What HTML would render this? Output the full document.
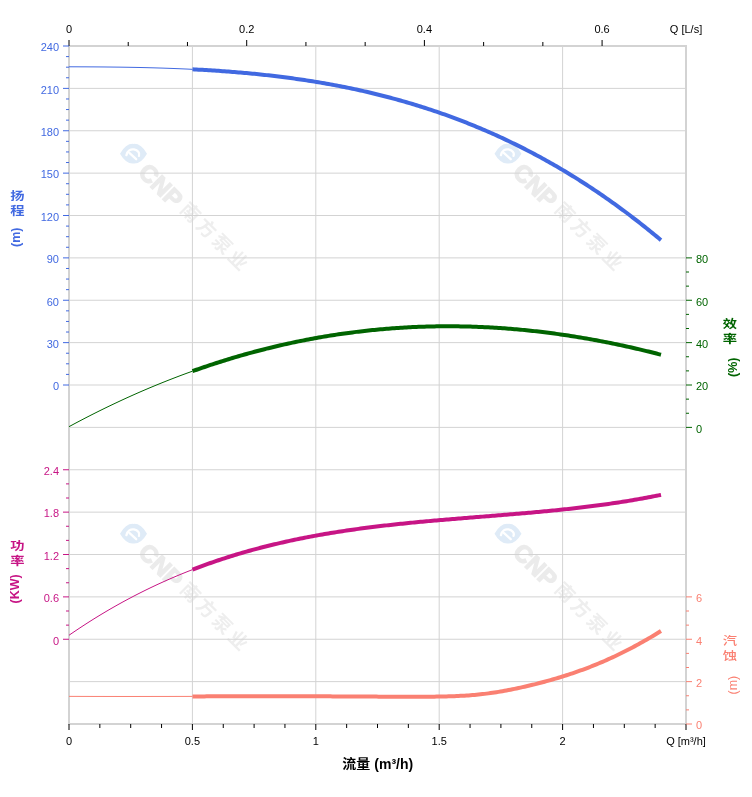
<!DOCTYPE html>
<html><head><meta charset="utf-8"><title>Pump curve</title>
<style>html,body{margin:0;padding:0;background:#fff;}svg{display:block;}</style></head>
<body><svg width="752" height="797" viewBox="0 0 752 797">
<rect width="752" height="797" fill="#fff"/>
<g transform="translate(0,0)">
<path d="M120,153.7 Q126,143.3 133.5,143.9 Q141,143.3 147,153.7 Q141,164.1 133.5,163.5 Q126,164.1 120,153.7 Z" fill="#dfebf7"/>
<path d="M126.4,155.2 C127.2,150.6 130.8,148.8 134,149.4 C137.6,150.2 140.2,152.6 139,155.8 M129.6,153.2 L136.2,159.2" fill="none" stroke="#ffffff" stroke-width="2.3" stroke-linecap="round"/>
<text transform="translate(137,173.5) rotate(45)" font-family='"Liberation Sans", Arial, sans-serif' font-weight="bold" font-size="24" fill="#ebebeb" stroke="#ebebeb" stroke-width="1.3">CNP</text>
<text transform="translate(179,210.5) rotate(45)" font-family='"Liberation Sans", "Noto Sans CJK SC", "WenQuanYi Zen Hei", sans-serif' font-weight="bold" font-size="19" letter-spacing="3.5" fill="#eeeeee">南方泵业</text>
</g>
<g transform="translate(374.5,0)">
<path d="M120,153.7 Q126,143.3 133.5,143.9 Q141,143.3 147,153.7 Q141,164.1 133.5,163.5 Q126,164.1 120,153.7 Z" fill="#dfebf7"/>
<path d="M126.4,155.2 C127.2,150.6 130.8,148.8 134,149.4 C137.6,150.2 140.2,152.6 139,155.8 M129.6,153.2 L136.2,159.2" fill="none" stroke="#ffffff" stroke-width="2.3" stroke-linecap="round"/>
<text transform="translate(137,173.5) rotate(45)" font-family='"Liberation Sans", Arial, sans-serif' font-weight="bold" font-size="24" fill="#ebebeb" stroke="#ebebeb" stroke-width="1.3">CNP</text>
<text transform="translate(179,210.5) rotate(45)" font-family='"Liberation Sans", "Noto Sans CJK SC", "WenQuanYi Zen Hei", sans-serif' font-weight="bold" font-size="19" letter-spacing="3.5" fill="#eeeeee">南方泵业</text>
</g>
<g transform="translate(0,380)">
<path d="M120,153.7 Q126,143.3 133.5,143.9 Q141,143.3 147,153.7 Q141,164.1 133.5,163.5 Q126,164.1 120,153.7 Z" fill="#dfebf7"/>
<path d="M126.4,155.2 C127.2,150.6 130.8,148.8 134,149.4 C137.6,150.2 140.2,152.6 139,155.8 M129.6,153.2 L136.2,159.2" fill="none" stroke="#ffffff" stroke-width="2.3" stroke-linecap="round"/>
<text transform="translate(137,173.5) rotate(45)" font-family='"Liberation Sans", Arial, sans-serif' font-weight="bold" font-size="24" fill="#ebebeb" stroke="#ebebeb" stroke-width="1.3">CNP</text>
<text transform="translate(179,210.5) rotate(45)" font-family='"Liberation Sans", "Noto Sans CJK SC", "WenQuanYi Zen Hei", sans-serif' font-weight="bold" font-size="19" letter-spacing="3.5" fill="#eeeeee">南方泵业</text>
</g>
<g transform="translate(374.5,380)">
<path d="M120,153.7 Q126,143.3 133.5,143.9 Q141,143.3 147,153.7 Q141,164.1 133.5,163.5 Q126,164.1 120,153.7 Z" fill="#dfebf7"/>
<path d="M126.4,155.2 C127.2,150.6 130.8,148.8 134,149.4 C137.6,150.2 140.2,152.6 139,155.8 M129.6,153.2 L136.2,159.2" fill="none" stroke="#ffffff" stroke-width="2.3" stroke-linecap="round"/>
<text transform="translate(137,173.5) rotate(45)" font-family='"Liberation Sans", Arial, sans-serif' font-weight="bold" font-size="24" fill="#ebebeb" stroke="#ebebeb" stroke-width="1.3">CNP</text>
<text transform="translate(179,210.5) rotate(45)" font-family='"Liberation Sans", "Noto Sans CJK SC", "WenQuanYi Zen Hei", sans-serif' font-weight="bold" font-size="19" letter-spacing="3.5" fill="#eeeeee">南方泵业</text>
</g>
<line x1="70" y1="88.375" x2="685" y2="88.375" stroke="#d3d3d3" stroke-width="1"/>
<line x1="70" y1="130.750" x2="685" y2="130.750" stroke="#d3d3d3" stroke-width="1"/>
<line x1="70" y1="173.125" x2="685" y2="173.125" stroke="#d3d3d3" stroke-width="1"/>
<line x1="70" y1="215.500" x2="685" y2="215.500" stroke="#d3d3d3" stroke-width="1"/>
<line x1="70" y1="257.875" x2="685" y2="257.875" stroke="#d3d3d3" stroke-width="1"/>
<line x1="70" y1="300.250" x2="685" y2="300.250" stroke="#d3d3d3" stroke-width="1"/>
<line x1="70" y1="342.625" x2="685" y2="342.625" stroke="#d3d3d3" stroke-width="1"/>
<line x1="70" y1="385.000" x2="685" y2="385.000" stroke="#d3d3d3" stroke-width="1"/>
<line x1="70" y1="427.375" x2="685" y2="427.375" stroke="#d3d3d3" stroke-width="1"/>
<line x1="70" y1="469.750" x2="685" y2="469.750" stroke="#d3d3d3" stroke-width="1"/>
<line x1="70" y1="512.125" x2="685" y2="512.125" stroke="#d3d3d3" stroke-width="1"/>
<line x1="70" y1="554.500" x2="685" y2="554.500" stroke="#d3d3d3" stroke-width="1"/>
<line x1="70" y1="596.875" x2="685" y2="596.875" stroke="#d3d3d3" stroke-width="1"/>
<line x1="70" y1="639.250" x2="685" y2="639.250" stroke="#d3d3d3" stroke-width="1"/>
<line x1="70" y1="681.625" x2="685" y2="681.625" stroke="#d3d3d3" stroke-width="1"/>
<line x1="192.400" y1="47" x2="192.400" y2="723" stroke="#d3d3d3" stroke-width="1"/>
<line x1="315.800" y1="47" x2="315.800" y2="723" stroke="#d3d3d3" stroke-width="1"/>
<line x1="439.200" y1="47" x2="439.200" y2="723" stroke="#d3d3d3" stroke-width="1"/>
<line x1="562.600" y1="47" x2="562.600" y2="723" stroke="#d3d3d3" stroke-width="1"/>
<rect x="69" y="46" width="617" height="678" fill="none" stroke="#d3d3d3" stroke-width="2"/>
<line x1="69.000" y1="40" x2="69.000" y2="46" stroke="#000000" stroke-width="1"/>
<line x1="128.232" y1="42" x2="128.232" y2="46" stroke="#000000" stroke-width="1"/>
<line x1="187.464" y1="42" x2="187.464" y2="46" stroke="#000000" stroke-width="1"/>
<line x1="246.696" y1="40" x2="246.696" y2="46" stroke="#000000" stroke-width="1"/>
<line x1="305.928" y1="42" x2="305.928" y2="46" stroke="#000000" stroke-width="1"/>
<line x1="365.160" y1="42" x2="365.160" y2="46" stroke="#000000" stroke-width="1"/>
<line x1="424.392" y1="40" x2="424.392" y2="46" stroke="#000000" stroke-width="1"/>
<line x1="483.624" y1="42" x2="483.624" y2="46" stroke="#000000" stroke-width="1"/>
<line x1="542.856" y1="42" x2="542.856" y2="46" stroke="#000000" stroke-width="1"/>
<line x1="602.088" y1="40" x2="602.088" y2="46" stroke="#000000" stroke-width="1"/>
<line x1="69.000" y1="724" x2="69.000" y2="730" stroke="#000000" stroke-width="1"/>
<line x1="99.850" y1="724" x2="99.850" y2="728" stroke="#000000" stroke-width="1"/>
<line x1="130.700" y1="724" x2="130.700" y2="728" stroke="#000000" stroke-width="1"/>
<line x1="161.550" y1="724" x2="161.550" y2="728" stroke="#000000" stroke-width="1"/>
<line x1="192.400" y1="724" x2="192.400" y2="730" stroke="#000000" stroke-width="1"/>
<line x1="223.250" y1="724" x2="223.250" y2="728" stroke="#000000" stroke-width="1"/>
<line x1="254.100" y1="724" x2="254.100" y2="728" stroke="#000000" stroke-width="1"/>
<line x1="284.950" y1="724" x2="284.950" y2="728" stroke="#000000" stroke-width="1"/>
<line x1="315.800" y1="724" x2="315.800" y2="730" stroke="#000000" stroke-width="1"/>
<line x1="346.650" y1="724" x2="346.650" y2="728" stroke="#000000" stroke-width="1"/>
<line x1="377.500" y1="724" x2="377.500" y2="728" stroke="#000000" stroke-width="1"/>
<line x1="408.350" y1="724" x2="408.350" y2="728" stroke="#000000" stroke-width="1"/>
<line x1="439.200" y1="724" x2="439.200" y2="730" stroke="#000000" stroke-width="1"/>
<line x1="470.050" y1="724" x2="470.050" y2="728" stroke="#000000" stroke-width="1"/>
<line x1="500.900" y1="724" x2="500.900" y2="728" stroke="#000000" stroke-width="1"/>
<line x1="531.750" y1="724" x2="531.750" y2="728" stroke="#000000" stroke-width="1"/>
<line x1="562.600" y1="724" x2="562.600" y2="730" stroke="#000000" stroke-width="1"/>
<line x1="593.450" y1="724" x2="593.450" y2="728" stroke="#000000" stroke-width="1"/>
<line x1="624.300" y1="724" x2="624.300" y2="728" stroke="#000000" stroke-width="1"/>
<line x1="655.150" y1="724" x2="655.150" y2="728" stroke="#000000" stroke-width="1"/>
<line x1="686.000" y1="724" x2="686.000" y2="730" stroke="#000000" stroke-width="1"/>
<line x1="63" y1="46.000" x2="69" y2="46.000" stroke="#4169E1" stroke-width="1"/>
<line x1="66" y1="56.594" x2="69" y2="56.594" stroke="#4169E1" stroke-width="1"/>
<line x1="66" y1="67.188" x2="69" y2="67.188" stroke="#4169E1" stroke-width="1"/>
<line x1="66" y1="77.781" x2="69" y2="77.781" stroke="#4169E1" stroke-width="1"/>
<line x1="63" y1="88.375" x2="69" y2="88.375" stroke="#4169E1" stroke-width="1"/>
<line x1="66" y1="98.969" x2="69" y2="98.969" stroke="#4169E1" stroke-width="1"/>
<line x1="66" y1="109.562" x2="69" y2="109.562" stroke="#4169E1" stroke-width="1"/>
<line x1="66" y1="120.156" x2="69" y2="120.156" stroke="#4169E1" stroke-width="1"/>
<line x1="63" y1="130.750" x2="69" y2="130.750" stroke="#4169E1" stroke-width="1"/>
<line x1="66" y1="141.344" x2="69" y2="141.344" stroke="#4169E1" stroke-width="1"/>
<line x1="66" y1="151.938" x2="69" y2="151.938" stroke="#4169E1" stroke-width="1"/>
<line x1="66" y1="162.531" x2="69" y2="162.531" stroke="#4169E1" stroke-width="1"/>
<line x1="63" y1="173.125" x2="69" y2="173.125" stroke="#4169E1" stroke-width="1"/>
<line x1="66" y1="183.719" x2="69" y2="183.719" stroke="#4169E1" stroke-width="1"/>
<line x1="66" y1="194.312" x2="69" y2="194.312" stroke="#4169E1" stroke-width="1"/>
<line x1="66" y1="204.906" x2="69" y2="204.906" stroke="#4169E1" stroke-width="1"/>
<line x1="63" y1="215.500" x2="69" y2="215.500" stroke="#4169E1" stroke-width="1"/>
<line x1="66" y1="226.094" x2="69" y2="226.094" stroke="#4169E1" stroke-width="1"/>
<line x1="66" y1="236.688" x2="69" y2="236.688" stroke="#4169E1" stroke-width="1"/>
<line x1="66" y1="247.281" x2="69" y2="247.281" stroke="#4169E1" stroke-width="1"/>
<line x1="63" y1="257.875" x2="69" y2="257.875" stroke="#4169E1" stroke-width="1"/>
<line x1="66" y1="268.469" x2="69" y2="268.469" stroke="#4169E1" stroke-width="1"/>
<line x1="66" y1="279.062" x2="69" y2="279.062" stroke="#4169E1" stroke-width="1"/>
<line x1="66" y1="289.656" x2="69" y2="289.656" stroke="#4169E1" stroke-width="1"/>
<line x1="63" y1="300.250" x2="69" y2="300.250" stroke="#4169E1" stroke-width="1"/>
<line x1="66" y1="310.844" x2="69" y2="310.844" stroke="#4169E1" stroke-width="1"/>
<line x1="66" y1="321.438" x2="69" y2="321.438" stroke="#4169E1" stroke-width="1"/>
<line x1="66" y1="332.031" x2="69" y2="332.031" stroke="#4169E1" stroke-width="1"/>
<line x1="63" y1="342.625" x2="69" y2="342.625" stroke="#4169E1" stroke-width="1"/>
<line x1="66" y1="353.219" x2="69" y2="353.219" stroke="#4169E1" stroke-width="1"/>
<line x1="66" y1="363.812" x2="69" y2="363.812" stroke="#4169E1" stroke-width="1"/>
<line x1="66" y1="374.406" x2="69" y2="374.406" stroke="#4169E1" stroke-width="1"/>
<line x1="63" y1="385.000" x2="69" y2="385.000" stroke="#4169E1" stroke-width="1"/>
<line x1="63" y1="469.750" x2="69" y2="469.750" stroke="#C71585" stroke-width="1"/>
<line x1="66" y1="483.875" x2="69" y2="483.875" stroke="#C71585" stroke-width="1"/>
<line x1="66" y1="498.000" x2="69" y2="498.000" stroke="#C71585" stroke-width="1"/>
<line x1="63" y1="512.125" x2="69" y2="512.125" stroke="#C71585" stroke-width="1"/>
<line x1="66" y1="526.250" x2="69" y2="526.250" stroke="#C71585" stroke-width="1"/>
<line x1="66" y1="540.375" x2="69" y2="540.375" stroke="#C71585" stroke-width="1"/>
<line x1="63" y1="554.500" x2="69" y2="554.500" stroke="#C71585" stroke-width="1"/>
<line x1="66" y1="568.625" x2="69" y2="568.625" stroke="#C71585" stroke-width="1"/>
<line x1="66" y1="582.750" x2="69" y2="582.750" stroke="#C71585" stroke-width="1"/>
<line x1="63" y1="596.875" x2="69" y2="596.875" stroke="#C71585" stroke-width="1"/>
<line x1="66" y1="611.000" x2="69" y2="611.000" stroke="#C71585" stroke-width="1"/>
<line x1="66" y1="625.125" x2="69" y2="625.125" stroke="#C71585" stroke-width="1"/>
<line x1="63" y1="639.250" x2="69" y2="639.250" stroke="#C71585" stroke-width="1"/>
<line x1="686" y1="257.875" x2="692" y2="257.875" stroke="#006400" stroke-width="1"/>
<line x1="686" y1="272.000" x2="689" y2="272.000" stroke="#006400" stroke-width="1"/>
<line x1="686" y1="286.125" x2="689" y2="286.125" stroke="#006400" stroke-width="1"/>
<line x1="686" y1="300.250" x2="692" y2="300.250" stroke="#006400" stroke-width="1"/>
<line x1="686" y1="314.375" x2="689" y2="314.375" stroke="#006400" stroke-width="1"/>
<line x1="686" y1="328.500" x2="689" y2="328.500" stroke="#006400" stroke-width="1"/>
<line x1="686" y1="342.625" x2="692" y2="342.625" stroke="#006400" stroke-width="1"/>
<line x1="686" y1="356.750" x2="689" y2="356.750" stroke="#006400" stroke-width="1"/>
<line x1="686" y1="370.875" x2="689" y2="370.875" stroke="#006400" stroke-width="1"/>
<line x1="686" y1="385.000" x2="692" y2="385.000" stroke="#006400" stroke-width="1"/>
<line x1="686" y1="399.125" x2="689" y2="399.125" stroke="#006400" stroke-width="1"/>
<line x1="686" y1="413.250" x2="689" y2="413.250" stroke="#006400" stroke-width="1"/>
<line x1="686" y1="427.375" x2="692" y2="427.375" stroke="#006400" stroke-width="1"/>
<line x1="686" y1="596.875" x2="692" y2="596.875" stroke="#FA8072" stroke-width="1"/>
<line x1="686" y1="611.000" x2="689" y2="611.000" stroke="#FA8072" stroke-width="1"/>
<line x1="686" y1="625.125" x2="689" y2="625.125" stroke="#FA8072" stroke-width="1"/>
<line x1="686" y1="639.250" x2="692" y2="639.250" stroke="#FA8072" stroke-width="1"/>
<line x1="686" y1="653.375" x2="689" y2="653.375" stroke="#FA8072" stroke-width="1"/>
<line x1="686" y1="667.500" x2="689" y2="667.500" stroke="#FA8072" stroke-width="1"/>
<line x1="686" y1="681.625" x2="692" y2="681.625" stroke="#FA8072" stroke-width="1"/>
<line x1="686" y1="695.750" x2="689" y2="695.750" stroke="#FA8072" stroke-width="1"/>
<line x1="686" y1="709.875" x2="689" y2="709.875" stroke="#FA8072" stroke-width="1"/>
<line x1="686" y1="724.000" x2="692" y2="724.000" stroke="#FA8072" stroke-width="1"/>
<path d="M69.00,66.79 L71.00,66.79 L73.00,66.80 L75.00,66.81 L77.00,66.81 L79.00,66.82 L81.00,66.83 L83.00,66.84 L85.00,66.84 L87.00,66.85 L89.00,66.86 L91.00,66.88 L93.00,66.89 L95.00,66.90 L97.00,66.92 L99.00,66.93 L101.00,66.95 L103.00,66.96 L105.00,66.98 L107.00,67.00 L109.00,67.02 L111.00,67.04 L113.00,67.07 L115.00,67.09 L117.00,67.11 L119.00,67.14 L121.00,67.17 L123.00,67.20 L125.00,67.23 L127.00,67.26 L129.00,67.29 L131.00,67.33 L133.00,67.36 L135.00,67.40 L137.00,67.44 L139.00,67.48 L141.00,67.53 L143.00,67.57 L145.00,67.62 L147.00,67.67 L149.00,67.72 L151.00,67.77 L153.00,67.82 L155.00,67.88 L157.00,67.94 L159.00,68.00 L161.00,68.06 L163.00,68.12 L165.00,68.19 L167.00,68.26 L169.00,68.33 L171.00,68.40 L173.00,68.47 L175.00,68.55 L177.00,68.63 L179.00,68.71 L181.00,68.80 L183.00,68.88 L185.00,68.97 L187.00,69.06 L189.00,69.16 L191.00,69.25 L192.50,69.33" fill="none" stroke="#4169E1" stroke-width="1"/>
<path d="M192.50,69.33 L194.50,69.43 L196.50,69.53 L198.50,69.64 L200.50,69.75 L202.50,69.86 L204.50,69.97 L206.50,70.09 L208.50,70.21 L210.50,70.34 L212.50,70.46 L214.50,70.59 L216.50,70.72 L218.50,70.86 L220.50,71.00 L222.50,71.14 L224.50,71.28 L226.50,71.43 L228.50,71.58 L230.50,71.74 L232.50,71.90 L234.50,72.06 L236.50,72.22 L238.50,72.39 L240.50,72.56 L242.50,72.74 L244.50,72.91 L246.50,73.10 L248.50,73.28 L250.50,73.47 L252.50,73.66 L254.50,73.86 L256.50,74.06 L258.50,74.26 L260.50,74.47 L262.50,74.68 L264.50,74.90 L266.50,75.12 L268.50,75.34 L270.50,75.57 L272.50,75.80 L274.50,76.03 L276.50,76.27 L278.50,76.52 L280.50,76.76 L282.50,77.01 L284.50,77.27 L286.50,77.53 L288.50,77.79 L290.50,78.06 L292.50,78.34 L294.50,78.61 L296.50,78.90 L298.50,79.18 L300.50,79.47 L302.50,79.77 L304.50,80.07 L306.50,80.37 L308.50,80.68 L310.50,80.99 L312.50,81.31 L314.50,81.64 L316.50,81.96 L318.50,82.30 L320.50,82.63 L322.50,82.98 L324.50,83.32 L326.50,83.68 L328.50,84.03 L330.50,84.40 L332.50,84.76 L334.50,85.14 L336.50,85.51 L338.50,85.90 L340.50,86.28 L342.50,86.68 L344.50,87.08 L346.50,87.48 L348.50,87.89 L350.50,88.30 L352.50,88.72 L354.50,89.15 L356.50,89.58 L358.50,90.02 L360.50,90.46 L362.50,90.90 L364.50,91.36 L366.50,91.82 L368.50,92.28 L370.50,92.75 L372.50,93.23 L374.50,93.71 L376.50,94.20 L378.50,94.69 L380.50,95.19 L382.50,95.69 L384.50,96.20 L386.50,96.72 L388.50,97.24 L390.50,97.77 L392.50,98.31 L394.50,98.85 L396.50,99.40 L398.50,99.95 L400.50,100.51 L402.50,101.08 L404.50,101.65 L406.50,102.23 L408.50,102.82 L410.50,103.41 L412.50,104.01 L414.50,104.61 L416.50,105.22 L418.50,105.84 L420.50,106.47 L422.50,107.10 L424.50,107.73 L426.50,108.38 L428.50,109.03 L430.50,109.69 L432.50,110.35 L434.50,111.03 L436.50,111.70 L438.50,112.39 L440.50,113.08 L442.50,113.78 L444.50,114.49 L446.50,115.20 L448.50,115.92 L450.50,116.65 L452.50,117.39 L454.50,118.13 L456.50,118.88 L458.50,119.63 L460.50,120.40 L462.50,121.17 L464.50,121.95 L466.50,122.73 L468.50,123.53 L470.50,124.33 L472.50,125.14 L474.50,125.95 L476.50,126.78 L478.50,127.61 L480.50,128.45 L482.50,129.29 L484.50,130.15 L486.50,131.01 L488.50,131.88 L490.50,132.76 L492.50,133.64 L494.50,134.54 L496.50,135.44 L498.50,136.35 L500.50,137.27 L502.50,138.19 L504.50,139.13 L506.50,140.07 L508.50,141.02 L510.50,141.98 L512.50,142.94 L514.50,143.92 L516.50,144.90 L518.50,145.89 L520.50,146.89 L522.50,147.90 L524.50,148.91 L526.50,149.94 L528.50,150.97 L530.50,152.01 L532.50,153.07 L534.50,154.12 L536.50,155.19 L538.50,156.27 L540.50,157.35 L542.50,158.45 L544.50,159.55 L546.50,160.66 L548.50,161.78 L550.50,162.91 L552.50,164.05 L554.50,165.20 L556.50,166.35 L558.50,167.52 L560.50,168.69 L562.50,169.87 L564.50,171.07 L566.50,172.27 L568.50,173.48 L570.50,174.70 L572.50,175.93 L574.50,177.17 L576.50,178.42 L578.50,179.67 L580.50,180.94 L582.50,182.22 L584.50,183.50 L586.50,184.80 L588.50,186.10 L590.50,187.42 L592.50,188.74 L594.50,190.07 L596.50,191.42 L598.50,192.77 L600.50,194.13 L602.50,195.51 L604.50,196.89 L606.50,198.28 L608.50,199.68 L610.50,201.09 L612.50,202.52 L614.50,203.95 L616.50,205.39 L618.50,206.84 L620.50,208.31 L622.50,209.78 L624.50,211.26 L626.50,212.75 L628.50,214.26 L630.50,215.77 L632.50,217.30 L634.50,218.83 L636.50,220.37 L638.50,221.93 L640.50,223.50 L642.50,225.07 L644.50,226.66 L646.50,228.26 L648.50,229.86 L650.50,231.48 L652.50,233.11 L654.50,234.75 L656.50,236.40 L658.50,238.06 L660.50,239.74 L661.00,240.15" fill="none" stroke="#4169E1" stroke-width="4" stroke-linejoin="round"/>
<path d="M69.00,426.68 L71.00,425.60 L73.00,424.52 L75.00,423.45 L77.00,422.39 L79.00,421.34 L81.00,420.29 L83.00,419.24 L85.00,418.20 L87.00,417.17 L89.00,416.15 L91.00,415.12 L93.00,414.11 L95.00,413.10 L97.00,412.10 L99.00,411.10 L101.00,410.11 L103.00,409.13 L105.00,408.15 L107.00,407.18 L109.00,406.21 L111.00,405.25 L113.00,404.30 L115.00,403.35 L117.00,402.41 L119.00,401.47 L121.00,400.54 L123.00,399.62 L125.00,398.70 L127.00,397.78 L129.00,396.88 L131.00,395.98 L133.00,395.08 L135.00,394.19 L137.00,393.31 L139.00,392.43 L141.00,391.56 L143.00,390.70 L145.00,389.84 L147.00,388.99 L149.00,388.14 L151.00,387.30 L153.00,386.46 L155.00,385.63 L157.00,384.81 L159.00,383.99 L161.00,383.18 L163.00,382.37 L165.00,381.58 L167.00,380.78 L169.00,379.99 L171.00,379.21 L173.00,378.44 L175.00,377.66 L177.00,376.90 L179.00,376.14 L181.00,375.39 L183.00,374.64 L185.00,373.90 L187.00,373.17 L189.00,372.44 L191.00,371.72 L192.50,371.18" fill="none" stroke="#006400" stroke-width="1"/>
<path d="M192.50,371.18 L194.50,370.46 L196.50,369.76 L198.50,369.06 L200.50,368.36 L202.50,367.67 L204.50,366.99 L206.50,366.31 L208.50,365.64 L210.50,364.97 L212.50,364.31 L214.50,363.66 L216.50,363.01 L218.50,362.37 L220.50,361.73 L222.50,361.10 L224.50,360.47 L226.50,359.85 L228.50,359.24 L230.50,358.63 L232.50,358.03 L234.50,357.43 L236.50,356.84 L238.50,356.26 L240.50,355.68 L242.50,355.11 L244.50,354.54 L246.50,353.98 L248.50,353.42 L250.50,352.87 L252.50,352.33 L254.50,351.79 L256.50,351.26 L258.50,350.73 L260.50,350.21 L262.50,349.70 L264.50,349.19 L266.50,348.68 L268.50,348.19 L270.50,347.69 L272.50,347.21 L274.50,346.73 L276.50,346.25 L278.50,345.78 L280.50,345.32 L282.50,344.86 L284.50,344.41 L286.50,343.96 L288.50,343.52 L290.50,343.09 L292.50,342.66 L294.50,342.23 L296.50,341.81 L298.50,341.40 L300.50,340.99 L302.50,340.59 L304.50,340.20 L306.50,339.81 L308.50,339.42 L310.50,339.05 L312.50,338.67 L314.50,338.31 L316.50,337.94 L318.50,337.59 L320.50,337.24 L322.50,336.89 L324.50,336.55 L326.50,336.22 L328.50,335.89 L330.50,335.57 L332.50,335.25 L334.50,334.94 L336.50,334.64 L338.50,334.34 L340.50,334.04 L342.50,333.76 L344.50,333.47 L346.50,333.19 L348.50,332.92 L350.50,332.66 L352.50,332.40 L354.50,332.14 L356.50,331.89 L358.50,331.65 L360.50,331.41 L362.50,331.17 L364.50,330.95 L366.50,330.72 L368.50,330.51 L370.50,330.30 L372.50,330.09 L374.50,329.89 L376.50,329.69 L378.50,329.51 L380.50,329.32 L382.50,329.14 L384.50,328.97 L386.50,328.80 L388.50,328.64 L390.50,328.48 L392.50,328.33 L394.50,328.19 L396.50,328.05 L398.50,327.91 L400.50,327.78 L402.50,327.66 L404.50,327.54 L406.50,327.43 L408.50,327.32 L410.50,327.22 L412.50,327.12 L414.50,327.03 L416.50,326.94 L418.50,326.86 L420.50,326.79 L422.50,326.71 L424.50,326.65 L426.50,326.59 L428.50,326.54 L430.50,326.49 L432.50,326.44 L434.50,326.41 L436.50,326.37 L438.50,326.34 L440.50,326.32 L442.50,326.31 L444.50,326.29 L446.50,326.29 L448.50,326.29 L450.50,326.29 L452.50,326.30 L454.50,326.31 L456.50,326.33 L458.50,326.36 L460.50,326.39 L462.50,326.42 L464.50,326.46 L466.50,326.51 L468.50,326.56 L470.50,326.62 L472.50,326.68 L474.50,326.75 L476.50,326.82 L478.50,326.90 L480.50,326.98 L482.50,327.06 L484.50,327.16 L486.50,327.25 L488.50,327.36 L490.50,327.47 L492.50,327.58 L494.50,327.70 L496.50,327.82 L498.50,327.95 L500.50,328.08 L502.50,328.22 L504.50,328.36 L506.50,328.51 L508.50,328.67 L510.50,328.82 L512.50,328.99 L514.50,329.16 L516.50,329.33 L518.50,329.51 L520.50,329.69 L522.50,329.88 L524.50,330.08 L526.50,330.28 L528.50,330.48 L530.50,330.69 L532.50,330.90 L534.50,331.12 L536.50,331.35 L538.50,331.57 L540.50,331.81 L542.50,332.05 L544.50,332.29 L546.50,332.54 L548.50,332.79 L550.50,333.05 L552.50,333.32 L554.50,333.58 L556.50,333.86 L558.50,334.13 L560.50,334.42 L562.50,334.70 L564.50,335.00 L566.50,335.29 L568.50,335.60 L570.50,335.90 L572.50,336.22 L574.50,336.53 L576.50,336.85 L578.50,337.18 L580.50,337.51 L582.50,337.85 L584.50,338.19 L586.50,338.53 L588.50,338.88 L590.50,339.24 L592.50,339.60 L594.50,339.96 L596.50,340.33 L598.50,340.71 L600.50,341.09 L602.50,341.47 L604.50,341.86 L606.50,342.25 L608.50,342.65 L610.50,343.05 L612.50,343.45 L614.50,343.87 L616.50,344.28 L618.50,344.70 L620.50,345.13 L622.50,345.56 L624.50,345.99 L626.50,346.43 L628.50,346.87 L630.50,347.32 L632.50,347.78 L634.50,348.23 L636.50,348.70 L638.50,349.16 L640.50,349.63 L642.50,350.11 L644.50,350.59 L646.50,351.07 L648.50,351.56 L650.50,352.06 L652.50,352.55 L654.50,353.06 L656.50,353.56 L658.50,354.07 L660.50,354.59 L661.00,354.72" fill="none" stroke="#006400" stroke-width="4" stroke-linejoin="round"/>
<path d="M69.00,635.27 L71.00,633.89 L73.00,632.52 L75.00,631.16 L77.00,629.82 L79.00,628.48 L81.00,627.16 L83.00,625.85 L85.00,624.55 L87.00,623.25 L89.00,621.98 L91.00,620.71 L93.00,619.45 L95.00,618.20 L97.00,616.97 L99.00,615.74 L101.00,614.53 L103.00,613.33 L105.00,612.13 L107.00,610.95 L109.00,609.78 L111.00,608.62 L113.00,607.47 L115.00,606.33 L117.00,605.20 L119.00,604.08 L121.00,602.97 L123.00,601.87 L125.00,600.79 L127.00,599.71 L129.00,598.64 L131.00,597.58 L133.00,596.53 L135.00,595.49 L137.00,594.46 L139.00,593.44 L141.00,592.44 L143.00,591.44 L145.00,590.45 L147.00,589.46 L149.00,588.49 L151.00,587.53 L153.00,586.58 L155.00,585.64 L157.00,584.70 L159.00,583.78 L161.00,582.86 L163.00,581.96 L165.00,581.06 L167.00,580.17 L169.00,579.30 L171.00,578.43 L173.00,577.56 L175.00,576.71 L177.00,575.87 L179.00,575.03 L181.00,574.21 L183.00,573.39 L185.00,572.58 L187.00,571.78 L189.00,570.99 L191.00,570.21 L192.50,569.63" fill="none" stroke="#C71585" stroke-width="1"/>
<path d="M192.50,569.63 L194.50,568.86 L196.50,568.10 L198.50,567.34 L200.50,566.60 L202.50,565.86 L204.50,565.14 L206.50,564.42 L208.50,563.70 L210.50,563.00 L212.50,562.30 L214.50,561.61 L216.50,560.93 L218.50,560.26 L220.50,559.59 L222.50,558.94 L224.50,558.29 L226.50,557.64 L228.50,557.01 L230.50,556.38 L232.50,555.76 L234.50,555.14 L236.50,554.54 L238.50,553.94 L240.50,553.34 L242.50,552.76 L244.50,552.18 L246.50,551.61 L248.50,551.04 L250.50,550.48 L252.50,549.93 L254.50,549.39 L256.50,548.85 L258.50,548.32 L260.50,547.79 L262.50,547.27 L264.50,546.76 L266.50,546.26 L268.50,545.76 L270.50,545.26 L272.50,544.78 L274.50,544.30 L276.50,543.82 L278.50,543.35 L280.50,542.89 L282.50,542.43 L284.50,541.98 L286.50,541.53 L288.50,541.09 L290.50,540.66 L292.50,540.23 L294.50,539.81 L296.50,539.39 L298.50,538.98 L300.50,538.57 L302.50,538.17 L304.50,537.78 L306.50,537.38 L308.50,537.00 L310.50,536.62 L312.50,536.24 L314.50,535.87 L316.50,535.51 L318.50,535.15 L320.50,534.79 L322.50,534.44 L324.50,534.09 L326.50,533.75 L328.50,533.41 L330.50,533.08 L332.50,532.75 L334.50,532.43 L336.50,532.11 L338.50,531.79 L340.50,531.48 L342.50,531.18 L344.50,530.87 L346.50,530.58 L348.50,530.28 L350.50,529.99 L352.50,529.70 L354.50,529.42 L356.50,529.14 L358.50,528.87 L360.50,528.60 L362.50,528.33 L364.50,528.06 L366.50,527.80 L368.50,527.54 L370.50,527.29 L372.50,527.04 L374.50,526.79 L376.50,526.55 L378.50,526.31 L380.50,526.07 L382.50,525.83 L384.50,525.60 L386.50,525.37 L388.50,525.15 L390.50,524.92 L392.50,524.70 L394.50,524.48 L396.50,524.27 L398.50,524.05 L400.50,523.84 L402.50,523.64 L404.50,523.43 L406.50,523.23 L408.50,523.03 L410.50,522.83 L412.50,522.63 L414.50,522.44 L416.50,522.24 L418.50,522.05 L420.50,521.86 L422.50,521.68 L424.50,521.49 L426.50,521.31 L428.50,521.13 L430.50,520.95 L432.50,520.77 L434.50,520.59 L436.50,520.41 L438.50,520.24 L440.50,520.07 L442.50,519.90 L444.50,519.73 L446.50,519.56 L448.50,519.39 L450.50,519.22 L452.50,519.05 L454.50,518.89 L456.50,518.72 L458.50,518.56 L460.50,518.40 L462.50,518.23 L464.50,518.07 L466.50,517.91 L468.50,517.75 L470.50,517.59 L472.50,517.43 L474.50,517.27 L476.50,517.11 L478.50,516.95 L480.50,516.79 L482.50,516.63 L484.50,516.47 L486.50,516.31 L488.50,516.15 L490.50,515.99 L492.50,515.83 L494.50,515.67 L496.50,515.51 L498.50,515.34 L500.50,515.18 L502.50,515.02 L504.50,514.86 L506.50,514.69 L508.50,514.53 L510.50,514.36 L512.50,514.19 L514.50,514.03 L516.50,513.86 L518.50,513.69 L520.50,513.52 L522.50,513.35 L524.50,513.17 L526.50,513.00 L528.50,512.82 L530.50,512.64 L532.50,512.47 L534.50,512.29 L536.50,512.10 L538.50,511.92 L540.50,511.73 L542.50,511.55 L544.50,511.36 L546.50,511.17 L548.50,510.97 L550.50,510.78 L552.50,510.58 L554.50,510.38 L556.50,510.18 L558.50,509.97 L560.50,509.77 L562.50,509.56 L564.50,509.34 L566.50,509.13 L568.50,508.91 L570.50,508.69 L572.50,508.47 L574.50,508.25 L576.50,508.02 L578.50,507.79 L580.50,507.55 L582.50,507.31 L584.50,507.07 L586.50,506.83 L588.50,506.58 L590.50,506.33 L592.50,506.08 L594.50,505.82 L596.50,505.56 L598.50,505.30 L600.50,505.03 L602.50,504.76 L604.50,504.48 L606.50,504.20 L608.50,503.92 L610.50,503.63 L612.50,503.34 L614.50,503.04 L616.50,502.74 L618.50,502.44 L620.50,502.13 L622.50,501.82 L624.50,501.50 L626.50,501.18 L628.50,500.85 L630.50,500.52 L632.50,500.18 L634.50,499.84 L636.50,499.50 L638.50,499.15 L640.50,498.79 L642.50,498.43 L644.50,498.07 L646.50,497.70 L648.50,497.32 L650.50,496.94 L652.50,496.55 L654.50,496.16 L656.50,495.76 L658.50,495.36 L660.50,494.95 L661.00,494.85" fill="none" stroke="#C71585" stroke-width="4" stroke-linejoin="round"/>
<path d="M69.00,696.37 L71.00,696.37 L73.00,696.38 L75.00,696.39 L77.00,696.39 L79.00,696.40 L81.00,696.41 L83.00,696.41 L85.00,696.42 L87.00,696.42 L89.00,696.43 L91.00,696.43 L93.00,696.44 L95.00,696.44 L97.00,696.44 L99.00,696.45 L101.00,696.45 L103.00,696.45 L105.00,696.46 L107.00,696.46 L109.00,696.46 L111.00,696.46 L113.00,696.46 L115.00,696.46 L117.00,696.47 L119.00,696.47 L121.00,696.47 L123.00,696.47 L125.00,696.47 L127.00,696.47 L129.00,696.47 L131.00,696.47 L133.00,696.47 L135.00,696.47 L137.00,696.47 L139.00,696.47 L141.00,696.46 L143.00,696.46 L145.00,696.46 L147.00,696.46 L149.00,696.46 L151.00,696.46 L153.00,696.45 L155.00,696.45 L157.00,696.45 L159.00,696.45 L161.00,696.45 L163.00,696.44 L165.00,696.44 L167.00,696.44 L169.00,696.44 L171.00,696.43 L173.00,696.43 L175.00,696.43 L177.00,696.42 L179.00,696.42 L181.00,696.42 L183.00,696.41 L185.00,696.41 L187.00,696.41 L189.00,696.40 L191.00,696.40 L192.50,696.40" fill="none" stroke="#FA8072" stroke-width="1"/>
<path d="M192.50,696.40 L194.50,696.39 L196.50,696.39 L198.50,696.39 L200.50,696.38 L202.50,696.38 L204.50,696.38 L206.50,696.37 L208.50,696.37 L210.50,696.37 L212.50,696.36 L214.50,696.36 L216.50,696.35 L218.50,696.35 L220.50,696.35 L222.50,696.34 L224.50,696.34 L226.50,696.34 L228.50,696.33 L230.50,696.33 L232.50,696.33 L234.50,696.33 L236.50,696.32 L238.50,696.32 L240.50,696.32 L242.50,696.31 L244.50,696.31 L246.50,696.31 L248.50,696.31 L250.50,696.31 L252.50,696.30 L254.50,696.30 L256.50,696.30 L258.50,696.30 L260.50,696.30 L262.50,696.29 L264.50,696.29 L266.50,696.29 L268.50,696.29 L270.50,696.29 L272.50,696.29 L274.50,696.29 L276.50,696.29 L278.50,696.29 L280.50,696.29 L282.50,696.29 L284.50,696.29 L286.50,696.29 L288.50,696.29 L290.50,696.29 L292.50,696.30 L294.50,696.30 L296.50,696.30 L298.50,696.30 L300.50,696.30 L302.50,696.31 L304.50,696.31 L306.50,696.31 L308.50,696.31 L310.50,696.32 L312.50,696.32 L314.50,696.33 L316.50,696.33 L318.50,696.34 L320.50,696.34 L322.50,696.35 L324.50,696.35 L326.50,696.36 L328.50,696.36 L330.50,696.37 L332.50,696.38 L334.50,696.39 L336.50,696.39 L338.50,696.40 L340.50,696.41 L342.50,696.42 L344.50,696.43 L346.50,696.44 L348.50,696.45 L350.50,696.46 L352.50,696.47 L354.50,696.48 L356.50,696.49 L358.50,696.50 L360.50,696.51 L362.50,696.52 L364.50,696.54 L366.50,696.55 L368.50,696.56 L370.50,696.58 L372.50,696.59 L374.50,696.61 L376.50,696.62 L378.50,696.64 L380.50,696.65 L382.50,696.67 L384.50,696.68 L386.50,696.69 L388.50,696.71 L390.50,696.72 L392.50,696.73 L394.50,696.75 L396.50,696.76 L398.50,696.77 L400.50,696.77 L402.50,696.78 L404.50,696.79 L406.50,696.79 L408.50,696.79 L410.50,696.79 L412.50,696.79 L414.50,696.79 L416.50,696.79 L418.50,696.78 L420.50,696.77 L422.50,696.76 L424.50,696.74 L426.50,696.73 L428.50,696.71 L430.50,696.69 L432.50,696.66 L434.50,696.63 L436.50,696.60 L438.50,696.57 L440.50,696.53 L442.50,696.49 L444.50,696.45 L446.50,696.40 L448.50,696.34 L450.50,696.28 L452.50,696.21 L454.50,696.14 L456.50,696.06 L458.50,695.97 L460.50,695.87 L462.50,695.77 L464.50,695.65 L466.50,695.53 L468.50,695.39 L470.50,695.25 L472.50,695.09 L474.50,694.92 L476.50,694.74 L478.50,694.54 L480.50,694.33 L482.50,694.11 L484.50,693.88 L486.50,693.63 L488.50,693.36 L490.50,693.09 L492.50,692.80 L494.50,692.50 L496.50,692.19 L498.50,691.87 L500.50,691.53 L502.50,691.18 L504.50,690.83 L506.50,690.46 L508.50,690.08 L510.50,689.69 L512.50,689.29 L514.50,688.88 L516.50,688.46 L518.50,688.04 L520.50,687.60 L522.50,687.15 L524.50,686.70 L526.50,686.24 L528.50,685.77 L530.50,685.29 L532.50,684.81 L534.50,684.32 L536.50,683.82 L538.50,683.31 L540.50,682.79 L542.50,682.27 L544.50,681.73 L546.50,681.19 L548.50,680.64 L550.50,680.08 L552.50,679.51 L554.50,678.93 L556.50,678.35 L558.50,677.75 L560.50,677.14 L562.50,676.53 L564.50,675.90 L566.50,675.26 L568.50,674.61 L570.50,673.95 L572.50,673.28 L574.50,672.60 L576.50,671.91 L578.50,671.21 L580.50,670.49 L582.50,669.77 L584.50,669.03 L586.50,668.28 L588.50,667.52 L590.50,666.74 L592.50,665.96 L594.50,665.16 L596.50,664.34 L598.50,663.52 L600.50,662.68 L602.50,661.83 L604.50,660.96 L606.50,660.08 L608.50,659.19 L610.50,658.29 L612.50,657.37 L614.50,656.44 L616.50,655.49 L618.50,654.53 L620.50,653.56 L622.50,652.57 L624.50,651.58 L626.50,650.56 L628.50,649.54 L630.50,648.50 L632.50,647.44 L634.50,646.38 L636.50,645.30 L638.50,644.20 L640.50,643.09 L642.50,641.97 L644.50,640.84 L646.50,639.69 L648.50,638.53 L650.50,637.35 L652.50,636.16 L654.50,634.96 L656.50,633.74 L658.50,632.51 L660.50,631.26 L661.00,630.95" fill="none" stroke="#FA8072" stroke-width="4" stroke-linejoin="round"/>
<text x="59" y="51" fill="#4169E1" font-size="11" font-weight="normal" text-anchor="end" font-family='"Liberation Sans", Arial, sans-serif' >240</text>
<text x="59" y="94" fill="#4169E1" font-size="11" font-weight="normal" text-anchor="end" font-family='"Liberation Sans", Arial, sans-serif' >210</text>
<text x="59" y="136" fill="#4169E1" font-size="11" font-weight="normal" text-anchor="end" font-family='"Liberation Sans", Arial, sans-serif' >180</text>
<text x="59" y="178" fill="#4169E1" font-size="11" font-weight="normal" text-anchor="end" font-family='"Liberation Sans", Arial, sans-serif' >150</text>
<text x="59" y="221" fill="#4169E1" font-size="11" font-weight="normal" text-anchor="end" font-family='"Liberation Sans", Arial, sans-serif' >120</text>
<text x="59" y="263" fill="#4169E1" font-size="11" font-weight="normal" text-anchor="end" font-family='"Liberation Sans", Arial, sans-serif' >90</text>
<text x="59" y="306" fill="#4169E1" font-size="11" font-weight="normal" text-anchor="end" font-family='"Liberation Sans", Arial, sans-serif' >60</text>
<text x="59" y="348" fill="#4169E1" font-size="11" font-weight="normal" text-anchor="end" font-family='"Liberation Sans", Arial, sans-serif' >30</text>
<text x="59" y="390" fill="#4169E1" font-size="11" font-weight="normal" text-anchor="end" font-family='"Liberation Sans", Arial, sans-serif' >0</text>
<text x="59" y="475" fill="#C71585" font-size="11" font-weight="normal" text-anchor="end" font-family='"Liberation Sans", Arial, sans-serif' >2.4</text>
<text x="59" y="517" fill="#C71585" font-size="11" font-weight="normal" text-anchor="end" font-family='"Liberation Sans", Arial, sans-serif' >1.8</text>
<text x="59" y="560" fill="#C71585" font-size="11" font-weight="normal" text-anchor="end" font-family='"Liberation Sans", Arial, sans-serif' >1.2</text>
<text x="59" y="602" fill="#C71585" font-size="11" font-weight="normal" text-anchor="end" font-family='"Liberation Sans", Arial, sans-serif' >0.6</text>
<text x="59" y="645" fill="#C71585" font-size="11" font-weight="normal" text-anchor="end" font-family='"Liberation Sans", Arial, sans-serif' >0</text>
<text x="696" y="263" fill="#006400" font-size="11" font-weight="normal" text-anchor="start" font-family='"Liberation Sans", Arial, sans-serif' >80</text>
<text x="696" y="306" fill="#006400" font-size="11" font-weight="normal" text-anchor="start" font-family='"Liberation Sans", Arial, sans-serif' >60</text>
<text x="696" y="348" fill="#006400" font-size="11" font-weight="normal" text-anchor="start" font-family='"Liberation Sans", Arial, sans-serif' >40</text>
<text x="696" y="390" fill="#006400" font-size="11" font-weight="normal" text-anchor="start" font-family='"Liberation Sans", Arial, sans-serif' >20</text>
<text x="696" y="433" fill="#006400" font-size="11" font-weight="normal" text-anchor="start" font-family='"Liberation Sans", Arial, sans-serif' >0</text>
<text x="696" y="602" fill="#FA8072" font-size="11" font-weight="normal" text-anchor="start" font-family='"Liberation Sans", Arial, sans-serif' >6</text>
<text x="696" y="645" fill="#FA8072" font-size="11" font-weight="normal" text-anchor="start" font-family='"Liberation Sans", Arial, sans-serif' >4</text>
<text x="696" y="687" fill="#FA8072" font-size="11" font-weight="normal" text-anchor="start" font-family='"Liberation Sans", Arial, sans-serif' >2</text>
<text x="696" y="729" fill="#FA8072" font-size="11" font-weight="normal" text-anchor="start" font-family='"Liberation Sans", Arial, sans-serif' >0</text>
<text x="69.0" y="33" fill="#000" font-size="11" font-weight="normal" text-anchor="middle" font-family='"Liberation Sans", Arial, sans-serif' >0</text>
<text x="246.7" y="33" fill="#000" font-size="11" font-weight="normal" text-anchor="middle" font-family='"Liberation Sans", Arial, sans-serif' >0.2</text>
<text x="424.4" y="33" fill="#000" font-size="11" font-weight="normal" text-anchor="middle" font-family='"Liberation Sans", Arial, sans-serif' >0.4</text>
<text x="602.1" y="33" fill="#000" font-size="11" font-weight="normal" text-anchor="middle" font-family='"Liberation Sans", Arial, sans-serif' >0.6</text>
<text x="686" y="33" fill="#000" font-size="11" font-weight="normal" text-anchor="middle" font-family='"Liberation Sans", Arial, sans-serif' >Q [L/s]</text>
<text x="69.0" y="745" fill="#000" font-size="11" font-weight="normal" text-anchor="middle" font-family='"Liberation Sans", Arial, sans-serif' >0</text>
<text x="192.4" y="745" fill="#000" font-size="11" font-weight="normal" text-anchor="middle" font-family='"Liberation Sans", Arial, sans-serif' >0.5</text>
<text x="315.8" y="745" fill="#000" font-size="11" font-weight="normal" text-anchor="middle" font-family='"Liberation Sans", Arial, sans-serif' >1</text>
<text x="439.2" y="745" fill="#000" font-size="11" font-weight="normal" text-anchor="middle" font-family='"Liberation Sans", Arial, sans-serif' >1.5</text>
<text x="562.6" y="745" fill="#000" font-size="11" font-weight="normal" text-anchor="middle" font-family='"Liberation Sans", Arial, sans-serif' >2</text>
<text x="686" y="745" fill="#000" font-size="11" font-weight="normal" text-anchor="middle" font-family='"Liberation Sans", Arial, sans-serif' >Q [m³/h]</text>
<text transform="translate(17.5,200) scale(1.1,0.9)" fill="#4169E1" font-size="13" font-weight="bold" text-anchor="middle" font-family='"Liberation Sans", "Noto Sans CJK SC", "WenQuanYi Zen Hei", sans-serif'>扬</text>
<text transform="translate(17.5,215) scale(1.1,0.9)" fill="#4169E1" font-size="13" font-weight="bold" text-anchor="middle" font-family='"Liberation Sans", "Noto Sans CJK SC", "WenQuanYi Zen Hei", sans-serif'>程</text>
<text transform="translate(19.8,247) rotate(-90)" fill="#4169E1" font-size="12.5" font-weight="bold" font-family='"Liberation Sans", Arial, sans-serif'>(m)</text>
<text transform="translate(17.5,550) scale(1.1,0.9)" fill="#C71585" font-size="13" font-weight="bold" text-anchor="middle" font-family='"Liberation Sans", "Noto Sans CJK SC", "WenQuanYi Zen Hei", sans-serif'>功</text>
<text transform="translate(17.5,565) scale(1.1,0.9)" fill="#C71585" font-size="13" font-weight="bold" text-anchor="middle" font-family='"Liberation Sans", "Noto Sans CJK SC", "WenQuanYi Zen Hei", sans-serif'>率</text>
<text transform="translate(19.3,603.5) rotate(-90)" fill="#C71585" font-size="12.5" font-weight="bold" font-family='"Liberation Sans", Arial, sans-serif'>(KW)</text>
<text transform="translate(730,327.5) scale(1.1,0.9)" fill="#006400" font-size="13" font-weight="bold" text-anchor="middle" font-family='"Liberation Sans", "Noto Sans CJK SC", "WenQuanYi Zen Hei", sans-serif'>效</text>
<text transform="translate(730,342.5) scale(1.1,0.9)" fill="#006400" font-size="13" font-weight="bold" text-anchor="middle" font-family='"Liberation Sans", "Noto Sans CJK SC", "WenQuanYi Zen Hei", sans-serif'>率</text>
<text transform="translate(736.5,377) rotate(-90)" fill="#006400" font-size="12.5" font-weight="bold" font-family='"Liberation Sans", Arial, sans-serif'>(%)</text>
<text transform="translate(730,645) scale(1.1,0.9)" fill="#FA8072" font-size="13" font-weight="500" text-anchor="middle" font-family='"Liberation Sans", "Noto Sans CJK SC", "WenQuanYi Zen Hei", sans-serif'>汽</text>
<text transform="translate(730,660) scale(1.1,0.9)" fill="#FA8072" font-size="13" font-weight="500" text-anchor="middle" font-family='"Liberation Sans", "Noto Sans CJK SC", "WenQuanYi Zen Hei", sans-serif'>蚀</text>
<text transform="translate(736.5,694.5) rotate(-90)" fill="#FA8072" font-size="12.5" font-weight="500" font-family='"Liberation Sans", Arial, sans-serif'>(m)</text>
<text transform="translate(342.3,768) scale(1,0.92)" fill="#000" font-size="14" font-weight="bold" font-family='"Liberation Sans", "Noto Sans CJK SC", "WenQuanYi Zen Hei", sans-serif'>流量</text>
<text x="374.3" y="768.5" fill="#000" font-size="14" font-weight="bold" text-anchor="start" font-family='"Liberation Sans", Arial, sans-serif' >(m³/h)</text>
</svg></body></html>
